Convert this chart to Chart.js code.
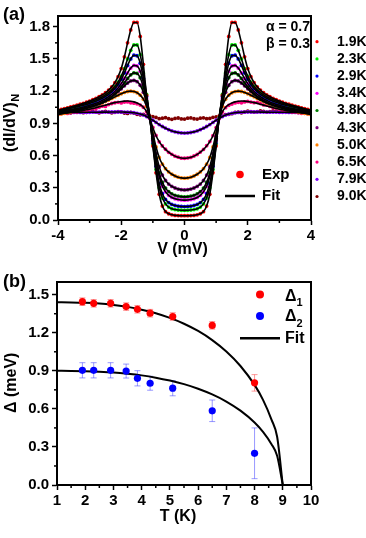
<!DOCTYPE html>
<html>
<head>
<meta charset="utf-8">
<script src="https://cdn.jsdelivr.net/npm/chart.js@4.4.1/dist/chart.umd.min.js"></script>
<style>
body { margin: 0; background: #fff; }
#wrap { position: relative; width: 366px; height: 538px; }
canvas { position: absolute; left: 0; }
#chart-a { top: 0; }
#chart-b { top: 270px; }
</style>
</head>
<body>
<div id="wrap">
  <canvas id="chart-a" width="366" height="270"></canvas>
  <canvas id="chart-b" width="366" height="268"></canvas>
</div>
<script>
// ---- panel (a): normalized conductance vs bias ----
const voltage = [-4.0,-3.9,-3.8,-3.7,-3.6,-3.5,-3.4,-3.3,-3.2,-3.1,-3.0,-2.9,-2.8,-2.7,-2.6,-2.5,-2.4,-2.3,-2.2,-2.1,
  -2.0,-1.9,-1.8,-1.7,-1.6,-1.5,-1.4,-1.3,-1.2,-1.1,-1.0,-0.9,-0.8,-0.7,-0.6,-0.5,-0.4,-0.3,-0.2,-0.1,
  0.0,0.1,0.2,0.3,0.4,0.5,0.6,0.7,0.8,0.9,1.0,1.1,1.2,1.3,1.4,1.5,1.6,1.7,1.8,1.9,
  2.0,2.1,2.2,2.3,2.4,2.5,2.6,2.7,2.8,2.9,3.0,3.1,3.2,3.3,3.4,3.5,3.6,3.7,3.8,3.9,4.0];

const temps = ['1.9K', '2.3K', '2.9K', '3.4K', '3.8K', '4.3K', '5.0K', '6.5K', '7.9K', '9.0K'];

const g19 = [1.021,1.029,1.037,1.045,1.053,1.061,1.069,1.078,1.087,1.097,1.108,1.120,1.133,1.148,1.165,1.185,1.210,1.240,1.280,1.335,
  1.410,1.520,1.650,1.770,1.840,1.840,1.710,1.450,1.160,0.970,0.690,0.440,0.240,0.130,0.078,0.058,0.048,0.043,0.041,0.040,
  0.040,
  0.040,0.041,0.043,0.048,0.058,0.078,0.130,0.240,0.440,0.690,0.970,1.160,1.450,1.710,1.840,1.840,1.770,1.650,1.520,1.410,
  1.335,1.280,1.240,1.210,1.185,1.165,1.148,1.133,1.120,1.108,1.097,1.087,1.078,1.069,1.061,1.053,1.045,1.037,1.029,1.021];

const g23 = [1.019,1.026,1.033,1.040,1.047,1.054,1.062,1.070,1.078,1.087,1.097,1.108,1.120,1.133,1.148,1.166,1.187,1.212,1.245,1.285,
  1.340,1.410,1.500,1.580,1.630,1.630,1.540,1.370,1.170,0.960,0.700,0.470,0.300,0.205,0.150,0.120,0.105,0.097,0.093,0.091,
  0.090,
  0.091,0.093,0.097,0.105,0.120,0.150,0.205,0.300,0.470,0.700,0.960,1.170,1.370,1.540,1.630,1.630,1.580,1.500,1.410,1.340,
  1.285,1.245,1.212,1.187,1.166,1.148,1.133,1.120,1.108,1.097,1.087,1.078,1.070,1.062,1.054,1.047,1.040,1.033,1.026,1.019];

const g29 = [1.016,1.022,1.028,1.034,1.040,1.047,1.054,1.061,1.069,1.077,1.086,1.096,1.107,1.120,1.134,1.151,1.171,1.195,1.225,1.262,
  1.310,1.370,1.440,1.500,1.535,1.530,1.460,1.320,1.150,0.955,0.710,0.500,0.340,0.245,0.192,0.162,0.145,0.135,0.129,0.126,
  0.125,
  0.126,0.129,0.135,0.145,0.162,0.192,0.245,0.340,0.500,0.710,0.955,1.150,1.320,1.460,1.530,1.535,1.500,1.440,1.370,1.310,
  1.262,1.225,1.195,1.171,1.151,1.134,1.120,1.107,1.096,1.086,1.077,1.069,1.061,1.054,1.047,1.040,1.034,1.028,1.022,1.016];

const g34 = [1.010,1.014,1.019,1.024,1.029,1.034,1.040,1.046,1.053,1.060,1.068,1.077,1.087,1.099,1.113,1.129,1.148,1.170,1.197,1.230,
  1.270,1.318,1.370,1.415,1.440,1.435,1.385,1.275,1.130,0.955,0.740,0.550,0.405,0.315,0.262,0.230,0.210,0.198,0.191,0.187,
  0.185,
  0.187,0.191,0.198,0.210,0.230,0.262,0.315,0.405,0.550,0.740,0.955,1.130,1.275,1.385,1.435,1.440,1.415,1.370,1.318,1.270,
  1.230,1.197,1.170,1.148,1.129,1.113,1.099,1.087,1.077,1.068,1.060,1.053,1.046,1.040,1.034,1.029,1.024,1.019,1.014,1.010];

const g38 = [1.005,1.009,1.013,1.017,1.021,1.026,1.031,1.036,1.042,1.049,1.056,1.064,1.074,1.085,1.098,1.113,1.131,1.152,1.177,1.206,
  1.240,1.278,1.318,1.352,1.370,1.365,1.325,1.235,1.110,0.955,0.760,0.578,0.438,0.350,0.297,0.264,0.243,0.230,0.222,0.217,
  0.215,
  0.217,0.222,0.230,0.243,0.264,0.297,0.350,0.438,0.578,0.760,0.955,1.110,1.235,1.325,1.365,1.370,1.352,1.318,1.278,1.240,
  1.206,1.177,1.152,1.131,1.113,1.098,1.085,1.074,1.064,1.056,1.049,1.042,1.036,1.031,1.026,1.021,1.017,1.013,1.009,1.005];

const g43 = [1.000,1.004,1.008,1.012,1.016,1.021,1.026,1.032,1.038,1.045,1.053,1.062,1.072,1.083,1.096,1.111,1.128,1.148,1.170,1.195,
  1.222,1.250,1.276,1.295,1.300,1.288,1.255,1.190,1.090,0.955,0.780,0.620,0.497,0.418,0.368,0.335,0.313,0.298,0.288,0.282,
  0.280,
  0.282,0.288,0.298,0.313,0.335,0.368,0.418,0.497,0.620,0.780,0.955,1.090,1.190,1.255,1.288,1.300,1.295,1.276,1.250,1.222,
  1.195,1.170,1.148,1.128,1.111,1.096,1.083,1.072,1.062,1.053,1.045,1.038,1.032,1.026,1.021,1.016,1.012,1.008,1.004,1.000];

const g50 = [0.982,0.988,0.994,1.000,1.006,1.012,1.018,1.025,1.032,1.040,1.048,1.057,1.067,1.078,1.090,1.103,1.117,1.132,1.147,1.162,
  1.176,1.188,1.197,1.200,1.196,1.185,1.163,1.125,1.060,0.955,0.810,0.680,0.583,0.520,0.478,0.448,0.426,0.410,0.399,0.392,
  0.390,
  0.392,0.399,0.410,0.426,0.448,0.478,0.520,0.583,0.680,0.810,0.955,1.060,1.125,1.163,1.185,1.196,1.200,1.197,1.188,1.176,
  1.162,1.147,1.132,1.117,1.103,1.090,1.078,1.067,1.057,1.048,1.040,1.032,1.025,1.018,1.012,1.006,1.000,0.994,0.988,0.982];

const g65exp = [0.985,0.990,0.996,0.993,1.000,1.008,1.005,1.014,1.022,1.018,1.030,1.040,1.036,1.050,1.060,1.058,1.075,1.085,1.092,1.096,
  1.090,1.098,1.100,1.092,1.088,1.082,1.070,1.050,1.008,0.948,0.862,0.788,0.728,0.690,0.659,0.630,0.612,0.594,0.585,0.576,
  0.575,
  0.578,0.583,0.596,0.610,0.633,0.657,0.692,0.731,0.786,0.861,0.946,1.006,1.046,1.068,1.080,1.090,1.096,1.092,1.100,1.104,
  1.098,1.093,1.096,1.084,1.072,1.070,1.058,1.046,1.044,1.034,1.024,1.022,1.014,1.006,1.006,1.000,0.994,0.994,0.990,0.986];

const g65fit = [0.989,0.992,0.995,0.998,1.002,1.006,1.010,1.015,1.020,1.026,1.032,1.039,1.046,1.054,1.062,1.070,1.078,1.086,1.093,1.099,
  1.104,1.107,1.108,1.106,1.100,1.090,1.075,1.050,1.010,0.945,0.860,0.785,0.730,0.690,0.658,0.632,0.611,0.595,0.584,0.577,
  0.575,
  0.577,0.584,0.595,0.611,0.632,0.658,0.690,0.730,0.785,0.860,0.945,1.010,1.050,1.075,1.090,1.100,1.106,1.108,1.107,1.104,
  1.099,1.093,1.086,1.078,1.070,1.062,1.054,1.046,1.039,1.032,1.026,1.020,1.015,1.010,1.006,1.002,0.998,0.995,0.992,0.989];

const g79 = [1.000,1.000,1.001,1.001,1.001,1.002,1.002,1.002,1.003,1.003,1.003,1.004,1.004,1.004,1.005,1.005,1.005,1.006,1.006,1.006,
  1.006,1.005,1.004,1.002,0.999,0.994,0.987,0.977,0.964,0.945,0.929,0.909,0.889,0.871,0.855,0.841,0.830,0.821,0.815,0.811,
  0.810,
  0.811,0.815,0.821,0.830,0.841,0.855,0.871,0.889,0.909,0.929,0.945,0.964,0.977,0.987,0.994,0.999,1.002,1.004,1.005,1.006,
  1.006,1.006,1.006,1.005,1.005,1.005,1.004,1.004,1.004,1.003,1.003,1.003,1.002,1.002,1.002,1.001,1.001,1.001,1.000,1.000];

const g90 = [1.003,1.010,1.014,1.006,0.999,1.004,1.012,1.009,1.000,1.003,1.011,1.013,1.004,0.998,1.006,1.012,1.005,0.998,1.003,1.010,
  1.006,0.996,0.993,1.001,0.996,0.984,0.980,0.984,0.972,0.960,0.962,0.955,0.944,0.948,0.953,0.944,0.938,0.946,0.950,0.941,
  0.940,
  0.948,0.951,0.943,0.940,0.948,0.952,0.944,0.946,0.956,0.960,0.958,0.968,0.982,0.984,0.990,1.002,1.004,0.999,1.006,1.014,
  1.010,1.004,1.009,1.016,1.012,1.005,1.009,1.016,1.013,1.006,1.010,1.017,1.013,1.007,1.011,1.017,1.014,1.008,1.012,1.016];

const expSeries = [g19, g23, g29, g34, g38, g43, g50, g65exp, g79, g90];
const fitSeries = [g19, g23, g29, g34, g38, g43, g50, g65fit, g79, null]; // 9.0K has no fit

const xTicksA = [-4, -2, 0, 2, 4];
const yTicksA = [0, 0.3, 0.6, 0.9, 1.2, 1.5, 1.8];

// ---- panel (b): gaps vs temperature ----
const tempK = [1.9, 2.3, 2.9, 3.45, 3.85, 4.3, 5.1, 6.5, 8.0];
const gap1 = [1.445, 1.432, 1.432, 1.406, 1.385, 1.354, 1.328, 1.258, 0.805];
const err1 = [0.03, 0.03, 0.03, 0.03, 0.03, 0.03, 0.03, 0.03, 0.065];
const gap2 = [0.904, 0.904, 0.904, 0.898, 0.841, 0.802, 0.763, 0.585, 0.25];
const err2 = [0.06, 0.06, 0.06, 0.055, 0.06, 0.055, 0.06, 0.085, 0.2];

const fitT = [1, 1.5, 2, 2.5, 3, 3.5, 4, 4.5, 5, 5.5, 6, 6.5, 7, 7.5, 8, 8.3, 8.6, 8.8, 9.0];
const fitGap1 = [1.44, 1.439, 1.436, 1.43, 1.419, 1.404, 1.382, 1.354, 1.317, 1.271, 1.214, 1.142, 1.052, 0.938, 0.789, 0.671, 0.516, 0.38, 0];
const fitGap2 = [0.90, 0.899, 0.897, 0.893, 0.887, 0.877, 0.864, 0.846, 0.823, 0.795, 0.759, 0.714, 0.658, 0.586, 0.493, 0.419, 0.322, 0.23, 0];

const xTicksB = [1, 2, 3, 4, 5, 6, 7, 8, 9, 10];
const yTicksB = [0, 0.3, 0.6, 0.9, 1.2, 1.5];

// styles
const FONT = '"Liberation Sans", Arial, sans-serif';
const tempColors = ['#ff0000', '#00ee00', '#0000ff', '#ff00ff', '#008000', '#800080', '#ff8000', '#ff0080', '#8000ff', '#800000'];

Chart.defaults.font.family = FONT;

function pts(xs, ys) {
    return xs.map((x, i) => ({ x: x, y: ys[i] }));
}

function text(ctx, s, x, y, size, align) {
    ctx.font = 'bold ' + size + 'px ' + FONT;
    ctx.textAlign = align || 'left';
    ctx.textBaseline = 'middle';
    ctx.fillStyle = '#000';
    ctx.fillText(s, x, y);
}

function frameAndMinorTicks(chart) {
    const { ctx, chartArea: a, scales } = chart;
    ctx.save();
    ctx.strokeStyle = '#000';
    ctx.lineWidth = 2;
    ctx.strokeRect(a.left, a.top, a.right - a.left, a.bottom - a.top);
    ctx.lineWidth = 1.5;
    const xt = scales.x.ticks.map(t => t.value);
    for (let i = 0; i < xt.length - 1; i++) {
        const px = scales.x.getPixelForValue((xt[i] + xt[i + 1]) / 2);
        ctx.beginPath(); ctx.moveTo(px, a.bottom); ctx.lineTo(px, a.bottom + 3); ctx.stroke();
    }
    const yt = scales.y.ticks.map(t => t.value);
    for (let i = 0; i < yt.length - 1; i++) {
        const py = scales.y.getPixelForValue((yt[i] + yt[i + 1]) / 2);
        ctx.beginPath(); ctx.moveTo(a.left, py); ctx.lineTo(a.left - 3, py); ctx.stroke();
    }
    ctx.restore();
}

function axisOptions(min, max, tickValues, fmt) {
    return {
        type: 'linear',
        min: min,
        max: max,
        afterBuildTicks: s => { s.ticks = tickValues.map(v => ({ value: v })); },
        ticks: {
            color: '#000',
            font: { family: FONT, size: 15, weight: 'bold' },
            maxRotation: 0,
            autoSkip: false,
            callback: fmt
        },
        grid: { drawOnChartArea: false, tickLength: 5, tickWidth: 1.5, tickColor: '#000' },
        border: { color: '#000', width: 2 }
    };
}

// ---------- chart (a) ----------
const datasetsA = [];
expSeries.forEach((s, i) => {
    datasetsA.push({
        label: temps[i] + ' exp',
        data: pts(voltage, s),
        pointRadius: 1.9,
        pointBorderWidth: 0,
        backgroundColor: tempColors[i],
        showLine: false,
        order: 2
    });
});
fitSeries.forEach((s, i) => {
    if (!s) return;
    datasetsA.push({
        label: temps[i] + ' fit',
        data: pts(voltage, s),
        showLine: true,
        pointRadius: 0,
        borderColor: '#000',
        borderWidth: 1.6,
        cubicInterpolationMode: 'monotone',
        order: 1
    });
});

const xA = axisOptions(-4, 4, xTicksA, v => String(v));
xA.ticks.padding = 2;
xA.afterFit = s => { s.height = 50; };
const yA = axisOptions(0, 1.9, yTicksA, v => v.toFixed(1));
yA.ticks.padding = 3;
yA.afterFit = s => { s.width = 58; };

const decorA = {
    id: 'decorA',
    afterDraw(chart) {
        const ctx = chart.ctx;
        frameAndMinorTicks(chart);
        ctx.save();
        text(ctx, '(a)', 3, 15.5, 18);
        text(ctx, 'α = 0.7', 310, 27, 14, 'right');
        text(ctx, 'β = 0.3', 310, 44, 14, 'right');
        // temperature legend
        temps.forEach((t, i) => {
            const y = 41.7 + i * 17.2;
            ctx.fillStyle = tempColors[i];
            ctx.beginPath(); ctx.arc(317, y, 1.6, 0, Math.PI * 2); ctx.fill();
            text(ctx, t, 337, y, 14);
        });
        // Exp / Fit legend
        ctx.fillStyle = '#ff0000';
        ctx.beginPath(); ctx.arc(240, 174.5, 3.8, 0, Math.PI * 2); ctx.fill();
        text(ctx, 'Exp', 262, 174.5, 15);
        ctx.strokeStyle = '#000'; ctx.lineWidth = 2.5;
        ctx.beginPath(); ctx.moveTo(225, 196); ctx.lineTo(255, 196); ctx.stroke();
        text(ctx, 'Fit', 262, 196, 15);
        // axis titles
        text(ctx, 'V (mV)', 182.5, 250, 16, 'center');
        ctx.translate(11, 152);
        ctx.rotate(-Math.PI / 2);
        text(ctx, '(dI/dV)', 0, 0, 16);
        const w = ctx.measureText('(dI/dV)').width;
        text(ctx, 'N', w + 0.5, 5, 11);
        ctx.restore();
    }
};

new Chart(document.getElementById('chart-a'), {
    type: 'scatter',
    data: { datasets: datasetsA },
    options: {
        responsive: false,
        animation: false,
        devicePixelRatio: 1,
        layout: { padding: { top: 16, right: 55, left: 0, bottom: 0 } },
        plugins: { legend: { display: false }, tooltip: { enabled: false } },
        scales: { x: xA, y: yA }
    },
    plugins: [decorA]
});

// ---------- chart (b) ----------
const errorBars = {
    id: 'errorBars',
    beforeDatasetsDraw(chart) {
        const { ctx, scales } = chart;
        const sets = [
            { ys: gap1, es: err1, color: 'rgba(255, 70, 70, 0.55)' },
            { ys: gap2, es: err2, color: 'rgba(70, 70, 255, 0.55)' }
        ];
        ctx.save();
        ctx.lineWidth = 1;
        sets.forEach(set => {
            ctx.strokeStyle = set.color;
            tempK.forEach((t, i) => {
                const px = scales.x.getPixelForValue(t);
                const top = scales.y.getPixelForValue(set.ys[i] + set.es[i]);
                const bot = scales.y.getPixelForValue(set.ys[i] - set.es[i]);
                ctx.beginPath();
                ctx.moveTo(px, top); ctx.lineTo(px, bot);
                ctx.moveTo(px - 3, top); ctx.lineTo(px + 3, top);
                ctx.moveTo(px - 3, bot); ctx.lineTo(px + 3, bot);
                ctx.stroke();
            });
        });
        ctx.restore();
    }
};

const decorB = {
    id: 'decorB',
    afterDraw(chart) {
        const ctx = chart.ctx;
        frameAndMinorTicks(chart);
        ctx.save();
        text(ctx, '(b)', 3, 12.5, 18);
        // legend
        ctx.fillStyle = '#ff0000';
        ctx.beginPath(); ctx.arc(260, 24.5, 4, 0, Math.PI * 2); ctx.fill();
        ctx.fillStyle = '#0000ff';
        ctx.beginPath(); ctx.arc(260, 46, 4, 0, Math.PI * 2); ctx.fill();
        text(ctx, 'Δ', 285, 26.5, 16);
        const w = ctx.measureText('Δ').width;
        text(ctx, '1', 285 + w, 33, 11);
        text(ctx, 'Δ', 285, 47, 16);
        text(ctx, '2', 285 + w, 53.5, 11);
        ctx.strokeStyle = '#000'; ctx.lineWidth = 2.5;
        ctx.beginPath(); ctx.moveTo(240, 68.3); ctx.lineTo(280, 68.3); ctx.stroke();
        text(ctx, 'Fit', 285, 68.5, 16);
        // axis titles
        text(ctx, 'T (K)', 178, 247, 16, 'center');
        ctx.translate(12, 143);
        ctx.rotate(-Math.PI / 2);
        text(ctx, 'Δ (meV)', 0, 0, 16);
        ctx.restore();
    }
};

const xB = axisOptions(1, 10, xTicksB, v => String(v));
xB.ticks.padding = 2;
xB.afterFit = s => { s.height = 53; };
const yB = axisOptions(0, 1.6, yTicksB, v => v.toFixed(1));
yB.ticks.padding = 3;
yB.afterFit = s => { s.width = 57; };

new Chart(document.getElementById('chart-b'), {
    type: 'scatter',
    data: {
        datasets: [
            {
                label: 'Δ1',
                data: pts(tempK, gap1),
                pointRadius: 3.6,
                pointBorderWidth: 0,
                backgroundColor: '#ff0000',
                order: 0
            },
            {
                label: 'Δ2',
                data: pts(tempK, gap2),
                pointRadius: 3.6,
                pointBorderWidth: 0,
                backgroundColor: '#0000ff',
                order: 0
            },
            {
                label: 'Fit Δ1',
                data: pts(fitT, fitGap1),
                showLine: true,
                pointRadius: 0,
                borderColor: '#000',
                borderWidth: 2,
                cubicInterpolationMode: 'monotone',
                order: 1
            },
            {
                label: 'Fit Δ2',
                data: pts(fitT, fitGap2),
                showLine: true,
                pointRadius: 0,
                borderColor: '#000',
                borderWidth: 2,
                cubicInterpolationMode: 'monotone',
                order: 1
            }
        ]
    },
    options: {
        responsive: false,
        animation: false,
        devicePixelRatio: 1,
        layout: { padding: { top: 10, right: 55, left: 0, bottom: 0 } },
        plugins: { legend: { display: false }, tooltip: { enabled: false } },
        scales: { x: xB, y: yB }
    },
    plugins: [errorBars, decorB]
});
</script>
</body>
</html>
